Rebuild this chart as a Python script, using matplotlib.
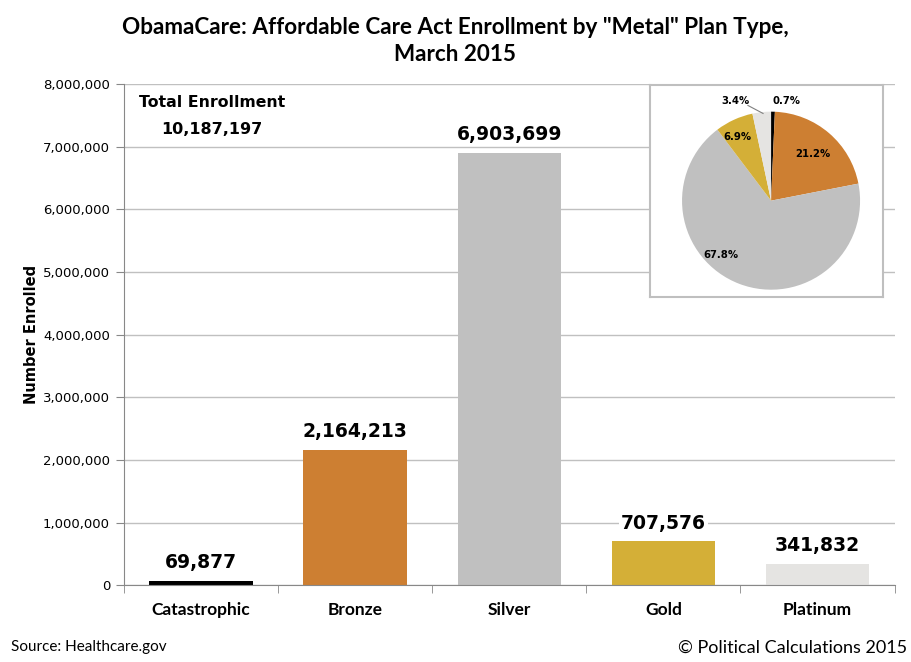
import numpy as np
import matplotlib.pyplot as plt
from matplotlib.ticker import FuncFormatter

plans = ["Catastrophic", "Bronze", "Silver", "Gold", "Platinum"]
enrolled = [69877, 2164213, 6903699, 707576, 341832]
colors = ["#000000", "#CD7F32", "#C0C0C0", "#D4AF37", "#E5E4E2"]
total = 10187197

narrow = ["Lato", "DejaVu Sans"]
wide = ["DejaVu Sans"]

fig = plt.figure(figsize=(9.11, 6.62), dpi=100)
ax = fig.add_axes([0.136, 0.116, 0.846, 0.757])

x = np.arange(len(plans))
bars = ax.bar(x, enrolled, width=0.67, color=colors, zorder=2)
ax.set_xlim(-0.5, len(plans) - 0.5)
ax.set_ylim(0, 8000000)
ax.set_yticks(np.arange(0, 8000001, 1000000))
ax.yaxis.set_major_formatter(FuncFormatter(lambda v, p: f"{int(v):,}"))
ax.grid(axis="y", color="#C0C0C0", linewidth=1, zorder=0)
for s in ["top", "right"]:
    ax.spines[s].set_visible(False)
for s in ["left", "bottom"]:
    ax.spines[s].set_color("#888888")
ax.tick_params(axis="y", length=6, color="#888888", labelsize=9.5, pad=4)
ax.set_xticks(x)
ax.set_xticklabels(plans, fontfamily=narrow, fontweight="bold", fontsize=12.5)
ax.tick_params(axis="x", length=0, pad=12)
ax.set_xticks(np.arange(-0.5, len(plans)), minor=True)
ax.tick_params(axis="x", which="minor", length=6, color="#888888")
ax.set_ylabel("Number Enrolled", fontfamily=wide, fontweight="bold", fontsize=10.5, labelpad=3)

for b, v in zip(bars, enrolled):
    ax.annotate(f"{v:,}", (b.get_x() + b.get_width() / 2, v), xytext=(0, 6),
                textcoords="offset points", ha="center", va="bottom",
                fontfamily=wide, fontweight="bold", fontsize=13.5, zorder=3,
                bbox=dict(facecolor="white", edgecolor="none", pad=1.5))

ax.text(0.07, 7700000, "Total Enrollment", ha="center", va="center",
        fontfamily=wide, fontweight="bold", fontsize=11.3)
ax.text(0.07, 7270000, f"{total:,}", ha="center", va="center",
        fontfamily=wide, fontweight="bold", fontsize=11.5)

fig.text(0.5, 0.958, "ObamaCare: Affordable Care Act Enrollment by \"Metal\" Plan Type,",
         ha="center", va="center", fontfamily=narrow, fontweight="bold", fontsize=16.2)
fig.text(0.5, 0.918, "March 2015", ha="center", va="center",
         fontfamily=narrow, fontweight="bold", fontsize=16.2)
fig.text(0.012, 0.022, "Source: Healthcare.gov", ha="left", va="center",
         fontfamily=narrow, fontsize=11)
fig.text(0.996, 0.022, "\u00a9 Political Calculations 2015", ha="right", va="center",
         fontfamily=narrow, fontsize=13)

# inset pie
pax = fig.add_axes([0.7135, 0.551, 0.2558, 0.3205], zorder=5)
wedges, _ = pax.pie(enrolled, colors=colors, startangle=90, counterclock=False)
pax.set_xlim(-1.36, 1.258)
pax.set_ylim(-1.084, 1.298)
pax.set_aspect("equal")
pax.set_frame_on(True)
pax.set_facecolor("white")
pax.set_xticks([])
pax.set_yticks([])
for s in pax.spines.values():
    s.set_visible(True)
    s.set_color("#BFBFBF")
    s.set_linewidth(1.5)
pcts = [v / total * 100 for v in enrolled]
label_pos = [(0.02, 1.12), (0.47, 0.52), (-0.56, -0.61), (-0.38, 0.72), (-0.40, 1.12)]
aligns = ["left", "center", "center", "center", "center"]
for p, pos, ha in zip(pcts, label_pos, aligns):
    pax.text(pos[0], pos[1], f"{p:.1f}%", ha=ha, va="center",
             fontfamily=wide, fontweight="bold", fontsize=7.3)
pax.plot([-0.26, -0.09], [1.07, 0.98], color="#808080", linewidth=0.8)

fig.savefig("out.png", dpi=100)
